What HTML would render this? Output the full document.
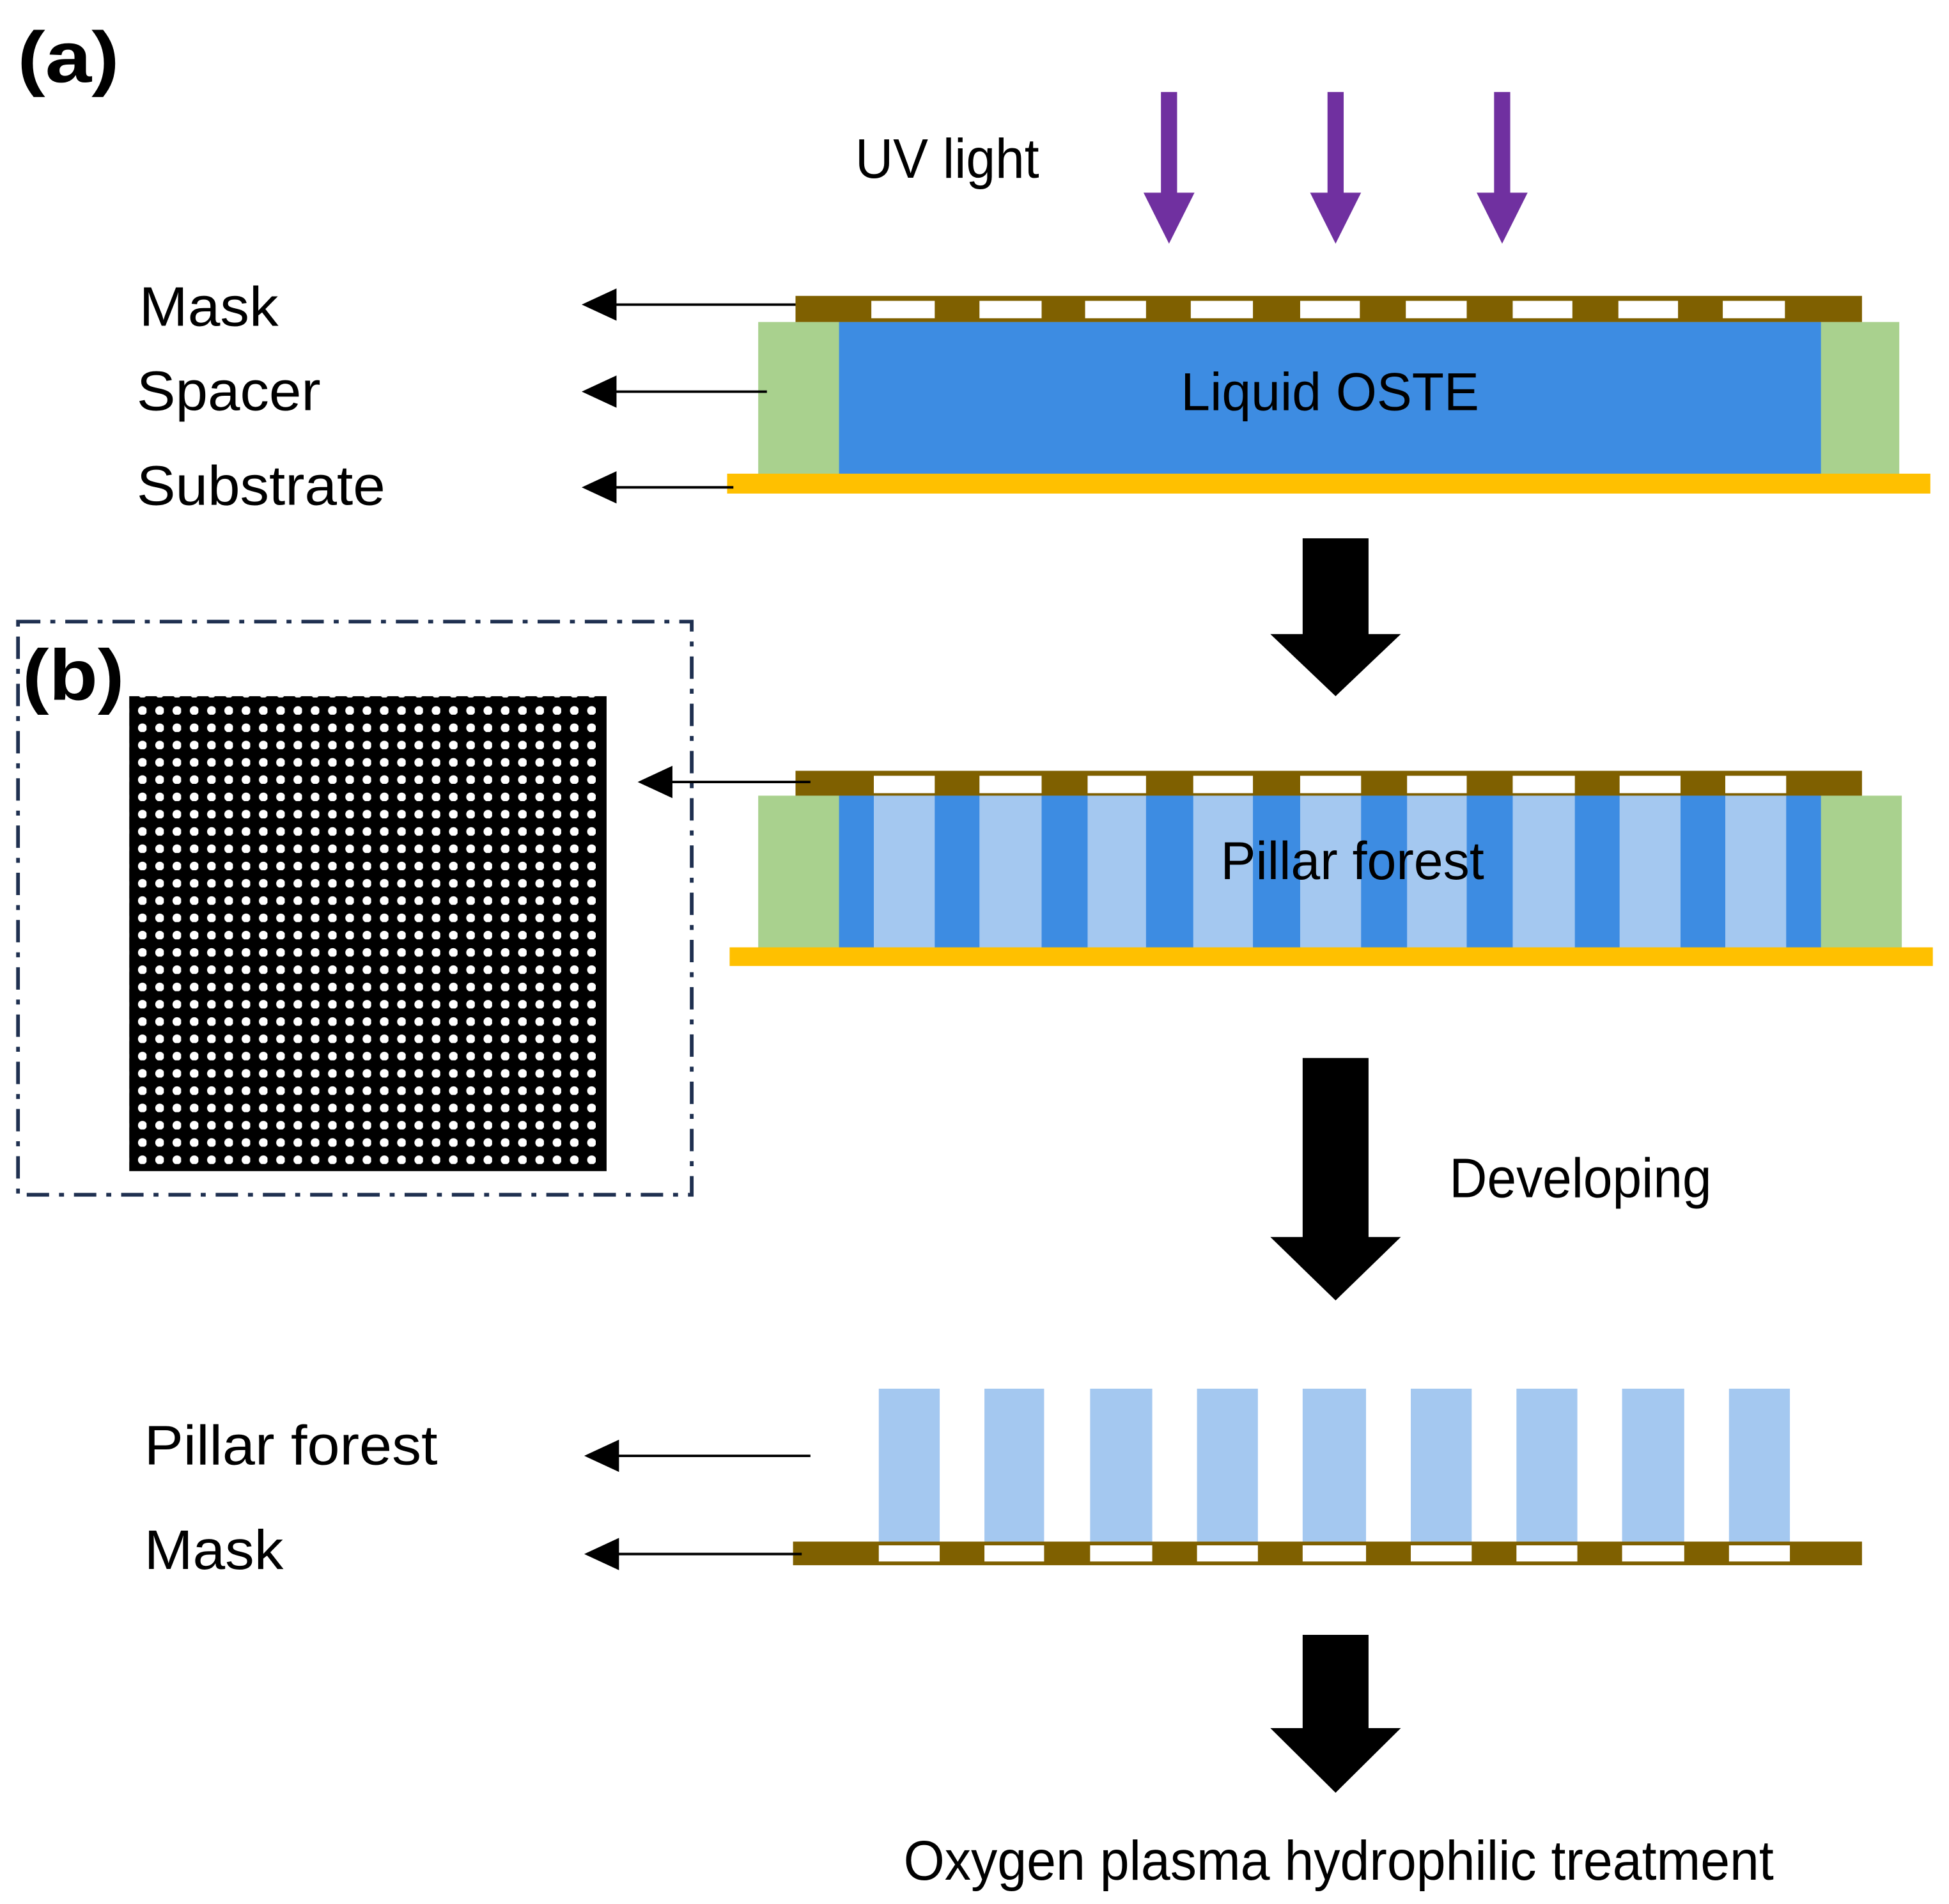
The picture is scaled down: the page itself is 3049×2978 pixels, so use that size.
<!DOCTYPE html>
<html><head><meta charset="utf-8"><style>html,body{margin:0;padding:0;background:#fff}svg{display:block}</style></head>
<body>
<svg width="3049" height="2978" viewBox="0 0 1568 1531.5" preserveAspectRatio="none" xmlns="http://www.w3.org/2000/svg" font-family="Liberation Sans, sans-serif">
<defs>
<pattern id="dots" x="104" y="561" width="13.9" height="13.9" patternUnits="userSpaceOnUse">
<circle cx="10.6" cy="10.6" r="3.6" fill="#fff"/>
</pattern>
</defs>
<rect width="1568" height="1532" fill="#fff"/>
<text x="14" y="66" font-size="58" font-weight="bold" textLength="82" lengthAdjust="spacingAndGlyphs">(a)</text>
<text x="18" y="563" font-size="58" font-weight="bold" textLength="82" lengthAdjust="spacingAndGlyphs">(b)</text>
<g font-size="45">
<text x="112" y="262" textLength="112" lengthAdjust="spacingAndGlyphs">Mask</text>
<text x="110" y="330" textLength="148" lengthAdjust="spacingAndGlyphs">Spacer</text>
<text x="110" y="406" textLength="200" lengthAdjust="spacingAndGlyphs">Substrate</text>
<text x="116" y="1178" textLength="236" lengthAdjust="spacingAndGlyphs">Pillar forest</text>
<text x="116" y="1262" textLength="112" lengthAdjust="spacingAndGlyphs">Mask</text>
<text x="688" y="143" textLength="148" lengthAdjust="spacingAndGlyphs">UV light</text>
<text x="1166" y="963" textLength="211" lengthAdjust="spacingAndGlyphs">Developing</text>
<text x="727" y="1512" textLength="700" lengthAdjust="spacingAndGlyphs">Oxygen plasma hydrophilic treatment</text>
</g>
<g fill="#7030a0">
<rect x="934" y="74" width="13" height="84"/><polygon points="920,155 961,155 940.5,196"/>
<rect x="1068" y="74" width="13" height="84"/><polygon points="1054,155 1095,155 1074.5,196"/>
<rect x="1202" y="74" width="13" height="84"/><polygon points="1188,155 1229,155 1208.5,196"/>
</g>
<rect x="610" y="259" width="918" height="123" fill="#a9d18e"/>
<rect x="675" y="259" width="790" height="123" fill="#3d8ce2"/>
<rect x="585" y="381" width="968" height="16" fill="#ffc000"/>
<rect x="640" y="238" width="858" height="21" fill="#7f6000"/>
<g fill="#fff">
<rect x="701" y="242" width="51" height="14"/><rect x="788" y="242" width="50" height="14"/><rect x="873" y="242" width="49" height="14"/><rect x="958" y="242" width="50" height="14"/><rect x="1046" y="242" width="48" height="14"/><rect x="1131" y="242" width="49" height="14"/><rect x="1217" y="242" width="48" height="14"/><rect x="1302" y="242" width="48" height="14"/><rect x="1386" y="242" width="50" height="14"/>
</g>
<text x="1070" y="330" font-size="43" text-anchor="middle" textLength="240" lengthAdjust="spacingAndGlyphs">Liquid OSTE</text>
<g fill="#000">
<rect x="1048" y="433" width="53" height="80"/><polygon points="1022,510 1127,510 1074.5,560"/>
<rect x="1048" y="851" width="53" height="146"/><polygon points="1022,995 1127,995 1074.5,1046"/>
<rect x="1048" y="1315" width="53" height="78"/><polygon points="1022,1390 1127,1390 1074.5,1442"/>
</g>
<rect x="610" y="640" width="920" height="123" fill="#a9d18e"/>
<rect x="675" y="640" width="790" height="123" fill="#3d8ce2"/>
<g fill="#a4c8f0">
<rect x="703" y="640" width="49" height="123"/><rect x="788" y="640" width="50" height="123"/><rect x="875" y="640" width="47" height="123"/><rect x="960" y="640" width="48" height="123"/><rect x="1046" y="640" width="49" height="123"/><rect x="1132" y="640" width="48" height="123"/><rect x="1217" y="640" width="50" height="123"/><rect x="1303" y="640" width="49" height="123"/><rect x="1388" y="640" width="49" height="123"/>
</g>
<rect x="587" y="762" width="968" height="15" fill="#ffc000"/>
<rect x="640" y="620" width="858" height="20" fill="#7f6000"/>
<g fill="#fff">
<rect x="703" y="624" width="49" height="14"/><rect x="788" y="624" width="50" height="14"/><rect x="875" y="624" width="47" height="14"/><rect x="960" y="624" width="48" height="14"/><rect x="1046" y="624" width="49" height="14"/><rect x="1132" y="624" width="48" height="14"/><rect x="1217" y="624" width="50" height="14"/><rect x="1303" y="624" width="49" height="14"/><rect x="1388" y="624" width="49" height="14"/>
</g>
<text x="1088" y="707" font-size="43" text-anchor="middle" textLength="212" lengthAdjust="spacingAndGlyphs">Pillar forest</text>
<g fill="#a4c8f0">
<rect x="707" y="1117" width="49" height="124"/><rect x="792" y="1117" width="48" height="124"/><rect x="877" y="1117" width="50" height="124"/><rect x="963" y="1117" width="49" height="124"/><rect x="1048" y="1117" width="51" height="124"/><rect x="1135" y="1117" width="49" height="124"/><rect x="1220" y="1117" width="49" height="124"/><rect x="1305" y="1117" width="50" height="124"/><rect x="1391" y="1117" width="49" height="124"/>
</g>
<rect x="638" y="1240" width="860" height="19" fill="#7f6000"/>
<g fill="#fff">
<rect x="707" y="1243" width="49" height="13"/><rect x="792" y="1243" width="48" height="13"/><rect x="877" y="1243" width="50" height="13"/><rect x="963" y="1243" width="49" height="13"/><rect x="1048" y="1243" width="51" height="13"/><rect x="1135" y="1243" width="49" height="13"/><rect x="1220" y="1243" width="49" height="13"/><rect x="1305" y="1243" width="50" height="13"/><rect x="1391" y="1243" width="49" height="13"/>
</g>
<g stroke="#000" stroke-width="2">
<line x1="490" y1="245" x2="640" y2="245"/><line x1="490" y1="315" x2="617" y2="315"/><line x1="490" y1="392" x2="590" y2="392"/>
<line x1="535" y1="629" x2="652" y2="629"/><line x1="492" y1="1171" x2="652" y2="1171"/><line x1="492" y1="1250" x2="645" y2="1250"/>
</g>
<g fill="#000">
<polygon points="468,245 496,232 496,258"/><polygon points="468,315 496,302 496,328"/><polygon points="468,392 496,379 496,405"/>
<polygon points="513,629 541,616 541,642"/><polygon points="470,1171 498,1158 498,1184"/><polygon points="470,1250 498,1237 498,1263"/>
</g>
<rect x="14.5" y="500" width="542" height="461" fill="none" stroke="#1f3050" stroke-width="3" stroke-dasharray="18,8,4,8"/>
<rect x="104" y="560" width="384" height="382" fill="#000"/>
<rect x="104" y="560" width="378" height="377" fill="url(#dots)"/>
</svg>
</body></html>
